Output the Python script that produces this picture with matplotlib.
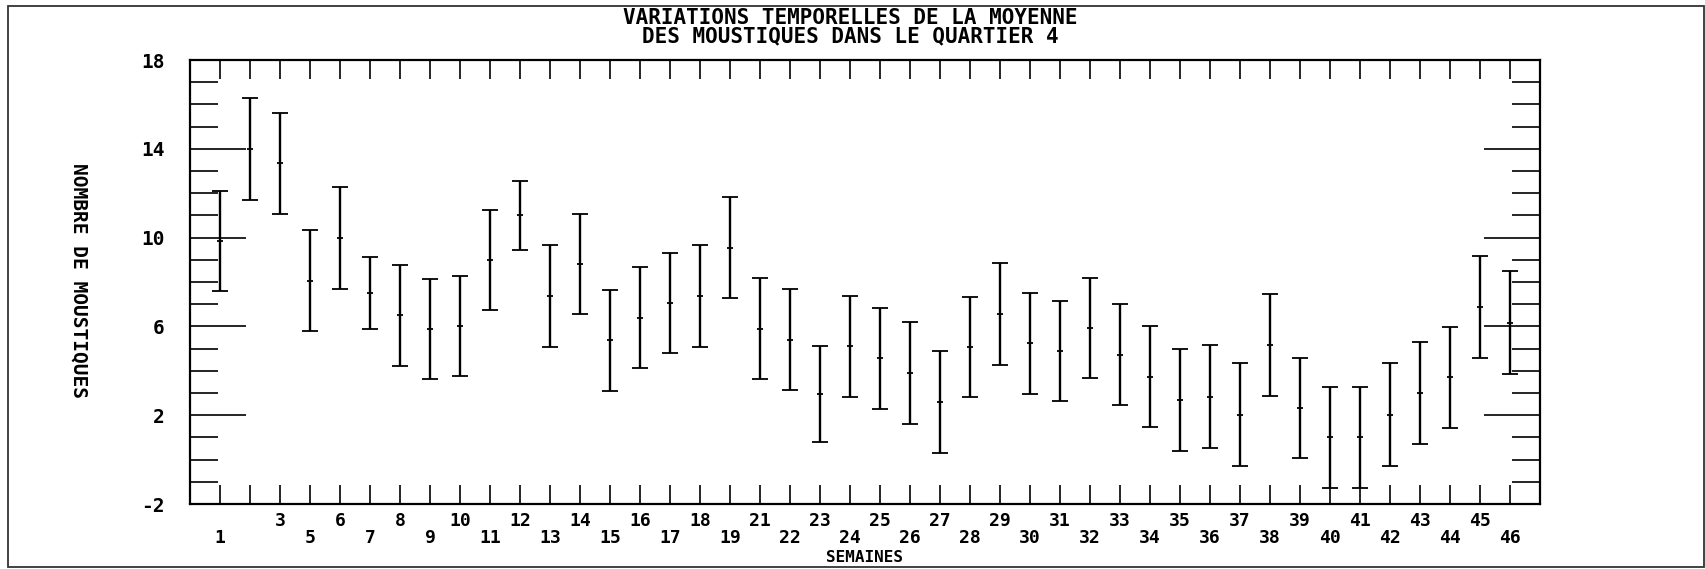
import matplotlib
matplotlib.use("Agg")
import matplotlib.pyplot as plt
from matplotlib.patches import Rectangle
from matplotlib.ticker import MultipleLocator
import numpy as np

# ---- data ----
week_labels = ["1", "", "3", "5", "6", "7", "8", "9", "10", "11", "12", "13", "14",
               "15", "16", "17", "18", "19", "21", "22", "23", "24", "25", "26", "27",
               "28", "29", "30", "31", "32", "33", "34", "35", "36", "37", "38", "39",
               "40", "41", "42", "43", "44", "45", "46"]
means = [9.85, 14.0, 13.35, 8.05, 10.0, 7.5, 6.5, 5.87, 6.02, 9.0, 11.0, 7.35, 8.8,
         5.38, 6.4, 7.05, 7.37, 9.55, 5.9, 5.4, 2.95, 5.1, 4.56, 3.9, 2.6, 5.08, 6.55,
         5.23, 4.9, 5.93, 4.73, 3.73, 2.7, 2.84, 2.03, 5.17, 2.32, 1.0, 1.0, 2.03, 3.0,
         3.7, 6.87, 6.17]
errs = [2.25, 2.3, 2.28, 2.27, 2.3, 1.62, 2.27, 2.26, 2.26, 2.26, 1.57, 2.3, 2.26,
        2.28, 2.27, 2.27, 2.3, 2.26, 2.28, 2.28, 2.17, 2.28, 2.26, 2.28, 2.3, 2.26, 2.3,
        2.29, 2.24, 2.27, 2.26, 2.28, 2.3, 2.3, 2.3, 2.3, 2.27, 2.28, 2.28, 2.3, 2.3,
        2.27, 2.28, 2.32]
y_major = [-2, 2, 6, 10, 14, 18]
title = "VARIATIONS TEMPORELLES DE LA MOYENNE\nDES MOUSTIQUES DANS LE QUARTIER 4"
xlabel = "SEMAINES"
ylabel = "NOMBRE DE MOUSTIQUES"

plt.rcParams["font.family"] = ["DejaVu Sans Mono", "DejaVu Sans"]
plt.rcParams["font.weight"] = "bold"
plt.rcParams["axes.labelweight"] = "bold"

W, H = 1706, 569
fig = plt.figure(figsize=(W / 100, H / 100), dpi=100)
L, R, T, B = 190, 1540, 60, 504
ax = fig.add_axes([L / W, 1 - B / H, (R - L) / W, (B - T) / H])

x = np.arange(1, len(means) + 1)
ax.errorbar(x, means, yerr=errs, fmt="_", color="black", ecolor="black",
            elinewidth=1.7, capsize=5.5, capthick=1.6, markersize=4,
            markeredgewidth=1.3)

ax.set_xlim(0, len(means) + 1)
ax.set_ylim(-2, 18)

for s in ax.spines.values():
    s.set_linewidth(1.6)

# y ticks
ax.set_yticks(y_major)
ax.set_yticklabels([str(v) for v in y_major])
ax.yaxis.set_minor_locator(MultipleLocator(1))
ax.tick_params(axis="y", which="major", direction="in", length=40, width=1.2,
               left=True, right=True, pad=18, labelsize=14)
ax.tick_params(axis="y", which="minor", direction="in", length=20, width=1.2,
               left=True, right=True)

# x ticks: staggered labels on two rows
upper = [i for i in x if i % 2 == 1 and i >= 3]
lower = [i for i in x if not (i % 2 == 1 and i >= 3)]
ax.set_xticks(upper, labels=[week_labels[i - 1] for i in upper])
ax.set_xticks(lower, labels=[week_labels[i - 1] for i in lower], minor=True)
ax.tick_params(axis="x", which="both", direction="in", length=14, width=1.2,
               top=True, bottom=True, labelsize=13)
ax.tick_params(axis="x", which="major", pad=6)
ax.tick_params(axis="x", which="minor", pad=18)

ax.set_xlabel(xlabel, fontsize=11.5)
ax.xaxis.set_label_coords(0.5, -0.1036)
ax.set_ylabel(ylabel, rotation=270, fontsize=14, va="center", ha="center")
ax.yaxis.set_label_coords((79 - L) / (R - L), (B - 280) / (B - T))

fig.text(850 / W, 1 - 27 / H, title, ha="center", va="center", fontsize=15,
         linespacing=0.92, multialignment="center")

fig.patches.append(Rectangle((8 / W, 1 - 567 / H), (1704 - 8) / W, (567 - 6) / H,
                             transform=fig.transFigure, fill=False, lw=1.3,
                             ec="#333333"))

fig.savefig("out.png", dpi=100)
